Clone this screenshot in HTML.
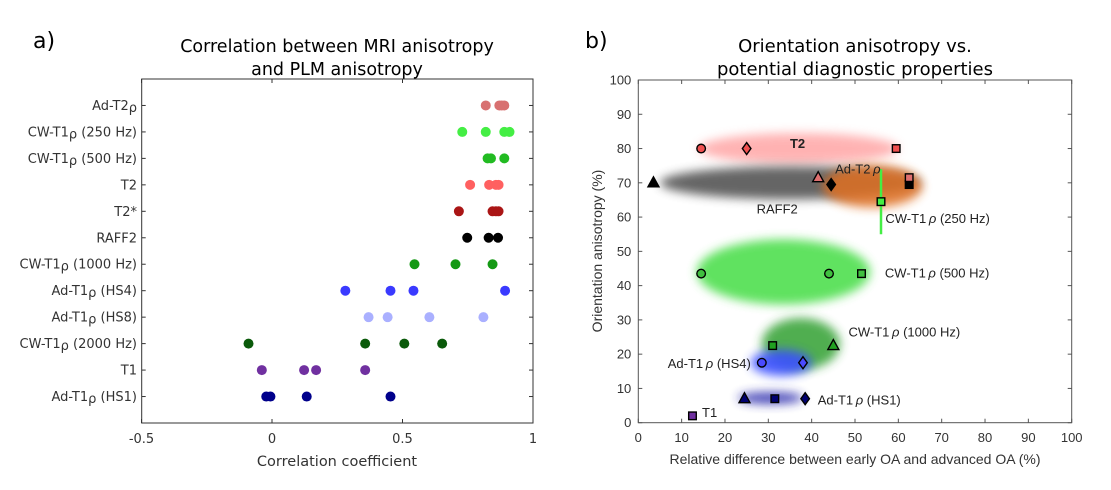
<!DOCTYPE html>
<html><head><meta charset="utf-8">
<style>
html,body{margin:0;padding:0;background:#fff;}
svg{display:block;font-family:"Liberation Sans","DejaVu Sans",sans-serif;}
</style></head>
<body>
<svg id="chart" width="1111" height="490" viewBox="0 0 1111 490" xmlns="http://www.w3.org/2000/svg">
<defs>
<filter id="blur" x="-50%" y="-80%" width="200%" height="260%"><feGaussianBlur stdDeviation="5"/></filter>
</defs>
<g id="left"></g>
<g id="right"></g>
</svg>
<script>
// ---------- Panel a data ----------
const catLabels = ["Ad-T2ρ","CW-T1ρ (250 Hz)","CW-T1ρ (500 Hz)","T2","T2*","RAFF2","CW-T1ρ (1000 Hz)","Ad-T1ρ (HS4)","Ad-T1ρ (HS8)","CW-T1ρ (2000 Hz)","T1","Ad-T1ρ (HS1)"];
const catColors = ["#d87070","#44ee44","#22bb22","#ff6060","#aa1515","#000000","#149914","#3a3aff","#aab0ff","#0a5a0a","#7030a0","#00008b"];
const corrValues = [
 [0.819,0.871,0.880,0.890],
 [0.729,0.819,0.890,0.910],
 [0.826,0.839,0.890],
 [0.759,0.832,0.858,0.868],
 [0.716,0.845,0.858,0.868],
 [0.748,0.830,0.866],
 [0.546,0.703,0.845],
 [0.281,0.454,0.542,0.893],
 [0.370,0.443,0.603,0.810],
 [-0.090,0.357,0.507,0.652],
 [-0.039,0.123,0.169,0.357],
 [-0.022,-0.006,0.133,0.454]
];
const corrTicks = [-0.5,0,0.5,1];
const corrTickLabels = ["-0.5","0","0.5","1"];

// ---------- Panel b data ----------
const oaTicks = [0,10,20,30,40,50,60,70,80,90,100];
const blobNames = ["t2","raff2","ad-t2rho","cw500","cw1000","hs4","hs1"];
const blobColors = ["#ffa0a0","#555555","#e07020","#44dd44","#30a030","#3a50ff","#3030b0"];
const blobCx = [37,35,54,33.5,37.5,33,30.5];
const blobCy = [80,70,69,44,23,17.5,7.2];
const blobRx = [23,30,11.5,20,9,7,7.5];
const blobRy = [4.5,4.8,6.2,9.5,7.5,3.8,1.7];
const blobOp = [0.8,0.9,0.85,0.85,0.85,0.9,0.9];
const mkNames = ["t2-circle","t2-diamond","t2-square","raff2-triangle","raff2-diamond","raff2-square","adt2-triangle","adt2-square","cw250-square","cw500-circle-1","cw500-circle-2","cw500-square","cw1000-square","cw1000-triangle","hs4-circle","hs4-diamond","hs1-triangle","hs1-square","hs1-diamond","t1-square"];
const mkShape = ["c","d","s","t","d","s","t","s","s","c","c","s","s","t","c","d","t","s","d","s"];
const mkX = [14.5,25,59.5,3.5,44.5,62.5,41.5,62.5,56,14.5,44,51.5,31,45,28.5,38,24.5,31.5,38.5,12.5];
const mkY = [80,80,80,70,69.5,69.5,71.5,71.5,64.5,43.5,43.5,43.5,22.5,22.5,17.5,17.5,7,7,7,2];
const mkFill = ["#f05050","#f05050","#f05050","#000","#000","#000","#e07070","#e07070","#44ee44","#40c040","#40c040","#40c040","#20a020","#20a020","#4a4aff","#4a4aff","#000070","#000070","#000070","#7030a0"];
const lineX = [56,56];
const lineY = [55,74];
const lblText = ["T2","Ad-T2ρ","RAFF2","CW-T1ρ (250 Hz)","CW-T1ρ (500 Hz)","CW-T1ρ (1000 Hz)","Ad-T1ρ (HS4)","Ad-T1ρ (HS1)","T1"];
const lblX = [35,45.4,27.3,57,56.9,48.5,6.8,41.4,14.7];
const lblY = [81.5,74,62.3,59.6,43.7,26.4,17.3,6.6,3];

const NS="http://www.w3.org/2000/svg";
function el(parent,tag,attrs,text){const e=document.createElementNS(NS,tag);for(const k in attrs)e.setAttribute(k,attrs[k]);if(text!==undefined)e.textContent=text;parent.appendChild(e);return e;}
const DV='"DejaVu Sans","Liberation Sans",sans-serif';

// ---------- Panel a ----------
const L=document.getElementById('left');
const aL=141.7,aR=533,aT=79,aB=423;
const xA=v=>272+v*261;
const yA=i=>aT+(i+1)*(aB-aT)/13;
let t=el(L,'text',{x:33,y:48,'font-size':22,fill:'#000','font-family':DV},'a)');

t=el(L,'text',{x:337,y:52,'font-size':17.5,'text-anchor':'middle',fill:'#000','font-family':DV},'Correlation between MRI anisotropy');

t=el(L,'text',{x:337,y:75,'font-size':17.5,'text-anchor':'middle',fill:'#000','font-family':DV},'and PLM anisotropy');

let r=el(L,'rect',{x:aL,y:aT,width:aR-aL,height:aB-aT,fill:'none',stroke:'#333','stroke-width':1});

corrTicks.forEach((v,i)=>{
  const x=xA(v);
  el(L,'line',{x1:x,x2:x,y1:aB,y2:aB-4,stroke:'#333'});
  el(L,'line',{x1:x,x2:x,y1:aT,y2:aT+4,stroke:'#333'});
  const tl=el(L,'text',{x:x,y:443,'font-size':13,'text-anchor':'middle',fill:'#333','font-family':DV},corrTickLabels[i]);
  
});
t=el(L,'text',{x:337,y:466,'font-size':14.5,'text-anchor':'middle',fill:'#333','font-family':DV},'Correlation coefficient');

catLabels.forEach((lab,i)=>{
  const y=yA(i);
  el(L,'line',{x1:aL,x2:aL+4,y1:y,y2:y,stroke:'#333'});
  el(L,'line',{x1:aR,x2:aR-4,y1:y,y2:y,stroke:'#333'});
  const tl=el(L,'text',{x:137,y:y+4.5,'font-size':13,'text-anchor':'end',fill:'#333','font-family':DV});
  const parts=lab.split('ρ');
  if(parts.length>1){
    el(tl,'tspan',{},parts[0]);
    el(tl,'tspan',{dy:2},'ρ');
    el(tl,'tspan',{dy:-2},parts[1]);
  } else tl.textContent=lab;
  
  corrValues[i].forEach(v=>{
    const c=el(L,'circle',{cx:xA(v),cy:y,r:5,fill:catColors[i]});
    
    
  });
});

// ---------- Panel b ----------
const R=document.getElementById('right');
const bL=638.3,bR=1071.7,bT=80,bB=422.7;
const xB=v=>bL+v*(bR-bL)/100;
const yB=v=>bB-v*(bB-bT)/100;
t=el(R,'text',{x:585,y:48,'font-size':22,fill:'#000','font-family':DV},'b)');

t=el(R,'text',{x:855,y:52,'font-size':18,'text-anchor':'middle',fill:'#000','font-family':DV},'Orientation anisotropy vs.');

t=el(R,'text',{x:855,y:75,'font-size':18,'text-anchor':'middle',fill:'#000','font-family':DV},'potential diagnostic properties');

blobNames.forEach((n,i)=>{
  const e=el(R,'ellipse',{cx:xB(blobCx[i]),cy:yB(blobCy[i]),rx:blobRx[i]*(bR-bL)/100,ry:blobRy[i]*(bB-bT)/100,fill:blobColors[i],opacity:blobOp[i],filter:'url(#blur)'});
  
  
});
r=el(R,'rect',{x:bL,y:bT,width:bR-bL,height:bB-bT,fill:'none',stroke:'#555','stroke-width':1});

oaTicks.forEach(v=>{
  const x=xB(v),y=yB(v);
  el(R,'line',{x1:x,x2:x,y1:bB,y2:bB-4,stroke:'#555'});
  el(R,'line',{x1:x,x2:x,y1:bT,y2:bT+4,stroke:'#555'});
  el(R,'line',{x1:bL,x2:bL+4,y1:y,y2:y,stroke:'#555'});
  el(R,'line',{x1:bR,x2:bR-4,y1:y,y2:y,stroke:'#555'});
  const tx=el(R,'text',{x:x,y:442,'font-size':13,'text-anchor':'middle',fill:'#333'},String(v));
  
  const ty=el(R,'text',{x:bL-7,y:y+4.5,'font-size':13,'text-anchor':'end',fill:'#333'},String(v));
  
});
t=el(R,'text',{x:855,y:464,'font-size':14,'text-anchor':'middle',fill:'#333'},'Relative difference between early OA and advanced OA (%)');

t=el(R,'text',{x:0,y:0,'font-size':14,'text-anchor':'middle',fill:'#333',transform:'translate(602,251) rotate(-90)'},'Orientation anisotropy (%)');

let ln=el(R,'line',{x1:xB(lineX[0]),x2:xB(lineX[1]),y1:yB(lineY[0]),y2:yB(lineY[1]),stroke:'#44ee44','stroke-width':2.5});

mkNames.forEach((n,i)=>{
  const x=xB(mkX[i]),y=yB(mkY[i]),s=mkShape[i];let m;
  const st={fill:mkFill[i],stroke:'#000','stroke-width':1.4};
  if(s==='c'){m=el(R,'circle',Object.assign({cx:x,cy:y,r:4.3},st));}
  else if(s==='s'){m=el(R,'rect',Object.assign({x:x-3.8,y:y-3.8,width:7.6,height:7.6},st));}
  else if(s==='d'){m=el(R,'polygon',Object.assign({points:`${x},${y-6} ${x+4.3},${y} ${x},${y+6} ${x-4.3},${y}`},st));}
  else {m=el(R,'polygon',Object.assign({points:`${x},${y-6} ${x+5.5},${y+4} ${x-5.5},${y+4}`},st));}
  
  
});
lblText.forEach((s,i)=>{
  const isT2=i===0;
  const parts=s.split('ρ');
  const tx=el(R,'text',{x:xB(lblX[i]),y:yB(lblY[i])+4.5,'font-size':13,fill:'#222','font-weight':isT2?'bold':'normal'});
  if(parts.length>1){
    el(tx,'tspan',{},parts[0]);
    el(tx,'tspan',{'font-style':'italic'},'\u2009ρ');
    el(tx,'tspan',{},parts[1]);
  } else tx.textContent=s;
  
  
});
</script>
</body></html>
